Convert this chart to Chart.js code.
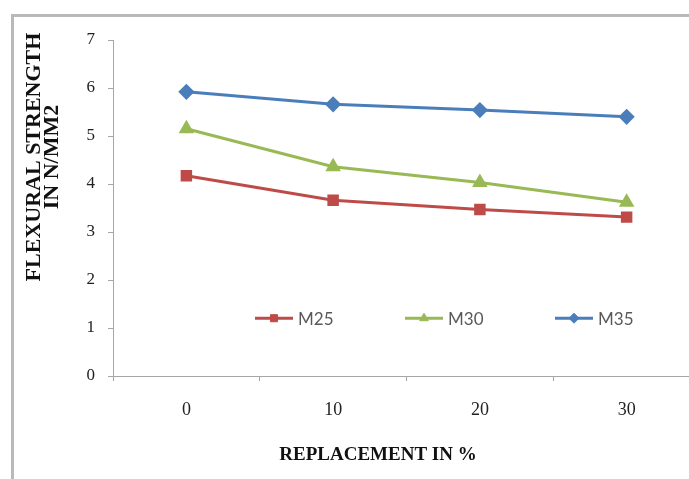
<!DOCTYPE html>
<html>
<head>
<meta charset="utf-8">
<script src="https://cdn.jsdelivr.net/npm/chart.js"></script>
<style>
  html, body { margin: 0; padding: 0; background: #fff; overflow: hidden; }
  #wrap { position: absolute; left: 0; top: 0; width: 689px; height: 479px; overflow: hidden; }
  #frame { position: absolute; left: 11px; top: 14px; width: 700px; height: 500px;
           border-left: 3px solid #b9b9b9; border-top: 3px solid #b9b9b9; }
  #chartBox { position: absolute; left: 0; top: 0; width: 720px; height: 479px; }
</style>
</head>
<body>
<div id="wrap">
  <div id="frame"></div>
  <div id="chartBox"><canvas id="chart"></canvas></div>
</div>
<script>
// data
const categories = ['0', '10', '20', '30'];
const m25 = [4.17, 3.66, 3.47, 3.31];
const m30 = [5.15, 4.36, 4.03, 3.62];
const m35 = [5.92, 5.66, 5.54, 5.40];
const yTicks = [0, 1, 2, 3, 4, 5, 6, 7];
const yTitle = ['FLEXURAL STRENGTH', 'IN N/MM2'];
const xTitle = 'REPLACEMENT IN %';

const serif = '"Liberation Serif", "DejaVu Serif", serif';

// legend drawn inside the plot, like the Excel original
const insideLegend = {
  id: 'insideLegend',
  afterDatasetsDraw(chart) {
    const ctx = chart.ctx;
    const area = chart.chartArea;
    const y = area.top + (area.bottom - area.top) * 0.828;
    ctx.save();
    chart.data.datasets.forEach(function(ds, i) {
      const x0 = area.left + 142 + i * 150;
      ctx.strokeStyle = ds.borderColor;
      ctx.lineWidth = 3;
      ctx.beginPath();
      ctx.moveTo(x0, y);
      ctx.lineTo(x0 + 38, y);
      ctx.stroke();
      ctx.fillStyle = ds.pointBackgroundColor;
      ctx.strokeStyle = ds.pointBorderColor;
      ctx.lineWidth = 1;
      Chart.helpers.drawPoint(ctx, {
        pointStyle: ds.pointStyle, radius: ds.pointRadius - 1, rotation: 0, borderWidth: 1
      }, x0 + 19, y);
      ctx.fillStyle = '#595959';
      ctx.font = '17px Lato, "Liberation Sans", sans-serif';
      ctx.textAlign = 'left';
      ctx.textBaseline = 'middle';
      ctx.fillText(ds.label, x0 + 43, y + 1);
    });
    ctx.restore();
  }
};

// axis titles: two centred lines on the left, one line under the axis
const axisTitles = {
  id: 'axisTitles',
  afterDraw(chart) {
    const ctx = chart.ctx;
    const area = chart.chartArea;
    ctx.save();
    ctx.fillStyle = '#111';
    ctx.textAlign = 'center';
    ctx.textBaseline = 'middle';
    ctx.font = 'bold 20px ' + serif;
    ctx.translate(35, area.top + 117);
    ctx.rotate(-Math.PI / 2);
    ctx.scale(1.1, 1);
    yTitle.forEach(function(line, i) {
      ctx.fillText(line, 0, i * 18);
    });
    ctx.restore();
    ctx.save();
    ctx.fillStyle = '#111';
    ctx.textAlign = 'center';
    ctx.textBaseline = 'middle';
    ctx.font = 'bold 19px ' + serif;
    ctx.fillText(xTitle, area.left + 265, area.bottom + 79);
    ctx.restore();
  }
};

function series(label, values, color, style, radius) {
  return {
    label: label,
    data: values,
    borderColor: color,
    backgroundColor: color,
    pointBackgroundColor: color,
    pointBorderColor: color,
    pointStyle: style,
    pointRadius: radius,
    pointHoverRadius: radius,
    borderWidth: 3,
    tension: 0
  };
}

new Chart(document.getElementById('chart'), {
  type: 'line',
  data: {
    labels: categories,
    datasets: [
      series('M25', m25, '#be4b48', 'rect', 6),
      series('M30', m30, '#98b954', 'triangle', 6),
      series('M35', m35, '#4a7ebb', 'rectRot', 6)
    ]
  },
  options: {
    responsive: true,
    maintainAspectRatio: false,
    animation: false,
    layout: { padding: { top: 40, right: 20, left: 0, bottom: 0 } },
    plugins: {
      legend: { display: false },
      tooltip: { enabled: false }
    },
    scales: {
      x: {
        offset: true,
        grid: { offset: true, drawOnChartArea: false, color: '#a6a6a6', tickLength: 5 },
        border: { color: '#a6a6a6', width: 1 },
        ticks: { color: '#222', padding: 18, font: { family: serif, size: 18 } },
        afterFit(scale) { scale.height = 103; }
      },
      y: {
        min: 0,
        max: 7,
        afterBuildTicks(scale) {
          scale.ticks = yTicks.map(function(v) { return { value: v }; });
        },
        grid: { drawOnChartArea: false, color: '#a6a6a6', tickLength: 5 },
        border: { color: '#a6a6a6', width: 1 },
        ticks: { color: '#222', padding: 13, font: { family: serif, size: 17 } },
        afterFit(scale) { scale.width = 113; }
      }
    }
  },
  plugins: [insideLegend, axisTitles]
});
</script>
</body>
</html>
